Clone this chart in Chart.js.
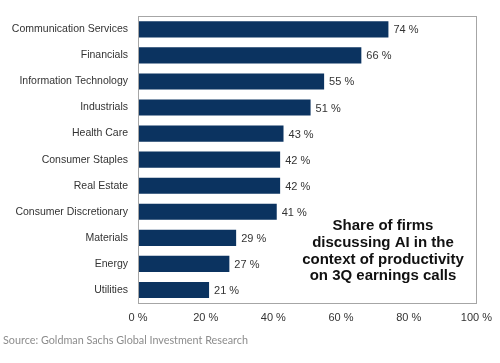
<!DOCTYPE html>
<html>
<head>
<meta charset="utf-8">
<script src="https://cdn.jsdelivr.net/npm/chart.js@4"></script>
<style>
  html, body { margin: 0; padding: 0; background: #fff; }
  #wrap { width: 500px; height: 363px; position: relative; }
</style>
</head>
<body>
<div id="wrap"><canvas id="chart" width="500" height="363"></canvas></div>
<script>
const sectors = ['Communication Services', 'Financials', 'Information Technology', 'Industrials',
  'Health Care', 'Consumer Staples', 'Real Estate', 'Consumer Discretionary', 'Materials', 'Energy', 'Utilities'];
const shares = [74, 66, 55, 51, 43, 42, 42, 41, 29, 27, 21];
const xTicks = [0, 20, 40, 60, 80, 100];
const noteLines = ['Share of firms', 'discussing AI in the', 'context of productivity', 'on 3Q earnings calls'];
const sourceText = 'Source: Goldman Sachs Global Investment Research';

const FONT = 'Arial, "Liberation Sans", sans-serif';

// frame, value labels, note and source
const extras = {
    id: 'extras',
    afterDatasetsDraw(chart) {
        const { ctx, chartArea: a, scales } = chart;
        ctx.save();
        ctx.strokeStyle = '#a6a6a6';
        ctx.lineWidth = 1;
        ctx.strokeRect(Math.round(a.left) + 0.5, Math.round(a.top) + 0.5,
            Math.round(a.right - a.left), Math.round(a.bottom - a.top));

        ctx.font = '11px ' + FONT;
        ctx.fillStyle = '#333';
        ctx.textAlign = 'left';
        ctx.textBaseline = 'middle';
        shares.forEach((v, i) => {
            const x = scales.x.getPixelForValue(v);
            const y = scales.y.getPixelForValue(i);
            ctx.fillText(v + ' %', x + 5, y + 1);
        });

        ctx.font = 'bold 15px ' + FONT;
        ctx.fillStyle = '#111';
        ctx.textAlign = 'center';
        noteLines.forEach((t, i) => ctx.fillText(t, 383, 226 + i * 16.7));

        ctx.font = '10.8px Lato, sans-serif';
        ctx.fillStyle = '#8c8c8c';
        ctx.textAlign = 'left';
        ctx.fillText(sourceText, 3, 341);
        ctx.restore();
    }
};

new Chart(document.getElementById('chart'), {
    type: 'bar',
    data: {
        labels: sectors,
        datasets: [{
            data: shares,
            backgroundColor: '#0b3360',
            barPercentage: 0.62,
            categoryPercentage: 1
        }]
    },
    options: {
        indexAxis: 'y',
        responsive: false,
        animation: false,
        layout: { padding: { top: 10, right: 22, left: 0, bottom: 0 } },
        plugins: { legend: { display: false }, tooltip: { enabled: false } },
        scales: {
            x: {
                min: 0, max: 100,
                afterBuildTicks: s => { s.ticks = xTicks.map(v => ({ value: v })); },
                afterFit: s => { s.height = 60; },
                grid: { display: false, drawTicks: false },
                border: { display: false },
                ticks: { color: '#333', font: { size: 11, family: FONT }, padding: 8,
                    callback: v => v + ' %' }
            },
            y: {
                afterFit: s => { s.width = 138; },
                grid: { display: false, drawTicks: false },
                border: { display: false },
                ticks: { color: '#333', font: { size: 10.5, family: FONT }, padding: 10 }
            }
        }
    },
    plugins: [extras]
});
</script>
</body>
</html>
